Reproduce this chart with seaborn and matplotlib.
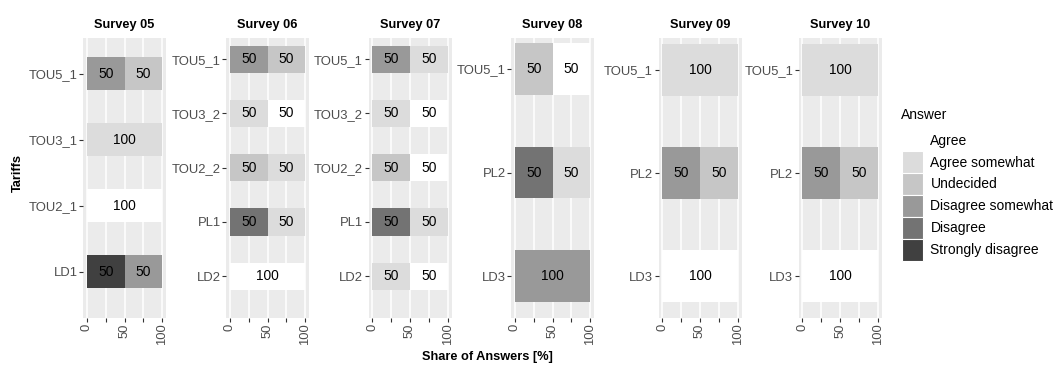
import matplotlib
matplotlib.use("Agg")
import matplotlib.pyplot as plt
from matplotlib.patches import Patch
import pandas as pd
import seaborn as sns

# ---------------- data ----------------
answers = ["Agree", "Agree somewhat", "Undecided", "Disagree somewhat",
           "Disagree", "Strongly disagree"]
answer_colors = ["#FFFFFF", "#DCDCDC", "#C6C6C6", "#999999", "#737373", "#404040"]

surveys = ["Survey 05", "Survey 06", "Survey 07", "Survey 08", "Survey 09", "Survey 10"]

# shares per tariff, in the order of `answers`
s05_tariffs = ["TOU5_1", "TOU3_1", "TOU2_1", "LD1"]
s05_shares = [[0, 0, 50, 50, 0, 0],
              [0, 100, 0, 0, 0, 0],
              [100, 0, 0, 0, 0, 0],
              [0, 0, 0, 50, 0, 50]]

s06_tariffs = ["TOU5_1", "TOU3_2", "TOU2_2", "PL1", "LD2"]
s06_shares = [[0, 0, 50, 50, 0, 0],
              [50, 50, 0, 0, 0, 0],
              [0, 50, 50, 0, 0, 0],
              [0, 50, 0, 0, 50, 0],
              [100, 0, 0, 0, 0, 0]]

s07_tariffs = ["TOU5_1", "TOU3_2", "TOU2_2", "PL1", "LD2"]
s07_shares = [[0, 50, 0, 50, 0, 0],
              [50, 50, 0, 0, 0, 0],
              [50, 0, 50, 0, 0, 0],
              [0, 50, 0, 0, 50, 0],
              [50, 50, 0, 0, 0, 0]]

s08_tariffs = ["TOU5_1", "PL2", "LD3"]
s08_shares = [[50, 0, 50, 0, 0, 0],
              [0, 50, 0, 0, 50, 0],
              [0, 0, 0, 100, 0, 0]]

s09_tariffs = ["TOU5_1", "PL2", "LD3"]
s09_shares = [[0, 100, 0, 0, 0, 0],
              [0, 0, 50, 50, 0, 0],
              [100, 0, 0, 0, 0, 0]]

s10_tariffs = ["TOU5_1", "PL2", "LD3"]
s10_shares = [[0, 100, 0, 0, 0, 0],
              [0, 0, 50, 50, 0, 0],
              [100, 0, 0, 0, 0, 0]]

x_ticks = [0, 25, 50, 75, 100]
x_tick_labels = ["0", "", "50", "", "100"]

x_title = "Share of Answers [%]"
y_title = "Tariffs"
legend_title = "Answer"

# ---------------- layout ----------------
W, H = 1058, 365
panel_lefts = [83, 226, 368.5, 511, 658.5, 798.7]
panel_width = 83
panel_top, panel_bottom = 38, 317.5
panel_ylims = [(3.69, -0.54), (4.76, -0.39), (4.76, -0.39),
               (2.40, -0.30), (2.40, -0.31), (2.40, -0.31)]
bar_width = 0.5

sns.set_theme(style="white")
plt.rcParams["font.family"] = ["Liberation Sans", "DejaVu Sans"]

fig = plt.figure(figsize=(W / 100, H / 100), dpi=100)
fig.patch.set_facecolor("white")

panel_data = [(s05_tariffs, s05_shares), (s06_tariffs, s06_shares),
              (s07_tariffs, s07_shares), (s08_tariffs, s08_shares),
              (s09_tariffs, s09_shares), (s10_tariffs, s10_shares)]

color_of = dict(zip(answers, answer_colors))
stack_order = answers[::-1]  # left to right

for k, (survey, (tariffs, shares)) in enumerate(zip(surveys, panel_data)):
    left = panel_lefts[k]
    ax = fig.add_axes([left / W, 1 - panel_bottom / H,
                       panel_width / W, (panel_bottom - panel_top) / H])
    ax.set_facecolor("#EBEBEB")
    ax.set_axisbelow(True)
    ax.grid(True, color="white", linewidth=1.1)

    df = pd.DataFrame(shares, columns=answers)
    df["Tariff"] = tariffs
    cum = df[stack_order].cumsum(axis=1)
    cum["Tariff"] = tariffs

    # draw cumulative bars from widest to narrowest -> stacked look
    for ans in answers:
        sns.barplot(data=cum, x=ans, y="Tariff", order=tariffs, orient="h",
                    color=color_of[ans], saturation=1, width=bar_width,
                    errorbar=None, linewidth=0, ax=ax)

    for i, t in enumerate(tariffs):
        for ans in answers:
            v = df.loc[i, ans]
            if v > 0:
                cx = cum.loc[i, ans] - v / 2
                ax.text(cx, i, f"{v:g}", ha="center", va="center",
                        fontsize=9.9, color="black")

    ax.set_xlim(-5, 105)
    ax.set_ylim(*panel_ylims[k])
    ax.set_xticks(x_ticks)
    ax.set_xticklabels(x_tick_labels, rotation=90)
    ax.set_xlabel("")
    ax.set_ylabel("")
    for s in ax.spines.values():
        s.set_visible(False)
    ax.tick_params(axis="both", which="major", length=2.75, width=0.8,
                   color="#333333", labelsize=9.4, labelcolor="#4D4D4D")
    ax.tick_params(axis="x", pad=1.5, bottom=True)
    ax.tick_params(axis="y", pad=1.2, left=True)
    ax.text(0.5, 1 + 13 / (panel_bottom - panel_top), survey,
            transform=ax.transAxes, ha="center", va="center",
            fontsize=9.2, fontweight="bold", color="black")

fig.text(17.5 / W, 1 - 173 / H, y_title, rotation=90, ha="center", va="center",
         fontsize=9.2, fontweight="bold", color="black")
fig.text(487.5 / W, 1 - 357 / H, x_title, ha="center", va="center",
         fontsize=9.2, fontweight="bold", color="black")

# legend
fig.text(900.7 / W, 1 - 115 / H, legend_title, ha="left", va="center",
         fontsize=10, color="black")
handles = [Patch(facecolor=c, edgecolor="white", linewidth=0.8) for c in answer_colors]
leg = fig.legend(handles, answers, loc="upper left",
                 bbox_to_anchor=(901.5 / W, 1 - 129.3 / H), frameon=False,
                 fontsize=10, handlelength=1.58,
                 handleheight=2.05, labelspacing=0, handletextpad=0.5,
                 borderpad=0, borderaxespad=0)
for txt in leg.get_texts():
    txt.set_color("black")

fig.savefig("out.png", dpi=100, facecolor="white")
